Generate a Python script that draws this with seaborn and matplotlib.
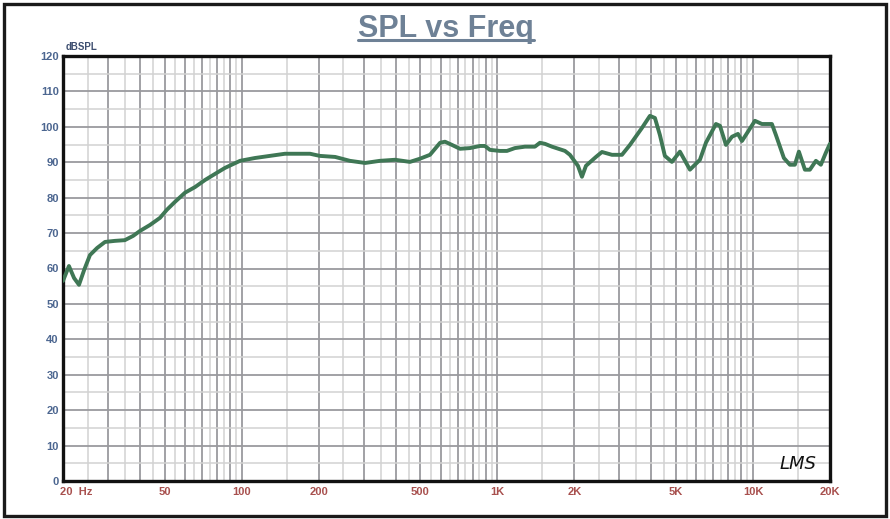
import numpy as np
import pandas as pd
import seaborn as sns
import matplotlib
matplotlib.use("Agg")
import matplotlib.pyplot as plt
from matplotlib.ticker import FixedLocator, NullFormatter
from matplotlib.patches import Rectangle
from matplotlib.lines import Line2D
import matplotlib.transforms as mtransforms

# ---- data ----
freq_hz = [20, 21.1, 22.1, 23.1, 24.2, 25.5, 27.2, 29.2, 31.9, 34.9, 37.6, 40.0,
           43.8, 47.9, 51.0, 54.8, 60.0, 65.7, 71.9, 78.6, 86.0, 98.5, 112.7,
           129, 147.7, 169, 185, 202, 232, 265, 304, 347, 398, 455, 498, 545,
           597, 624, 664, 714, 781, 855, 894, 935, 1023, 1090, 1171, 1282, 1402,
           1467, 1535, 1635, 1838, 1922, 2066, 2142, 2221, 2430, 2565, 2807,
           3071, 3300, 3678, 3951, 4133, 4322, 4520, 4815, 5176, 5665, 6198,
           6542, 7159, 7423, 7835, 8270, 8730, 9052, 10171, 10831, 11853, 12287,
           13203, 13937, 14577, 15112, 15955, 16686, 17614, 18422, 19270, 19980]
spl_db = [56.5, 60.7, 57.3, 55.4, 59.6, 63.8, 65.8, 67.5, 67.8, 68.0, 69.2, 70.6,
          72.3, 74.3, 76.6, 78.8, 81.4, 83.0, 85.0, 86.7, 88.4, 90.4, 91.2,
          91.8, 92.4, 92.4, 92.4, 91.8, 91.5, 90.4, 89.8, 90.4, 90.7, 90.1, 91.0,
          92.1, 95.5, 95.8, 94.9, 93.8, 94.0, 94.6, 94.6, 93.5, 93.2, 93.2, 94.0,
          94.4, 94.4, 95.5, 95.2, 94.4, 93.2, 92.1, 89.0, 85.9, 89.0, 91.5, 92.9,
          92.1, 92.1, 94.9, 99.7, 103.1, 102.5, 97.7, 91.8, 90.1, 93.0, 87.9, 90.7,
          95.5, 100.8, 100.3, 94.9, 97.2, 98.0, 96.0, 101.7, 100.8, 100.8, 97.7,
          91.2, 89.3, 89.3, 93.0, 87.9, 87.9, 90.4, 89.3, 92.7, 95.2]

x_tick_values = [20, 50, 100, 200, 500, 1000, 2000, 5000, 10000, 20000]
x_tick_labels = ["20  Hz", "50", "100", "200", "500", "1K", "2K", "5K", "10K", "20K"]
y_tick_values = [0, 10, 20, 30, 40, 50, 60, 70, 80, 90, 100, 110, 120]

df = pd.DataFrame({"freq": freq_hz, "spl": spl_db})

sns.set_theme(style="white")
plt.rcParams['font.family'] = ['Liberation Sans', 'DejaVu Sans']

fig = plt.figure(figsize=(8.9, 5.19), dpi=100)
ax = fig.add_axes([63/890, 38/519, 767/890, 425/519])

sns.lineplot(data=df, x="freq", y="spl", ax=ax, color="#3F7755", linewidth=2.8,
             zorder=5, legend=False)
for ln in ax.get_lines():
    ln.set_solid_joinstyle("round")
    ln.set_solid_capstyle("round")

ax.set_xscale("log")
ax.set_xlim(20, 20000)
ax.set_ylim(0, 120)

# grid locators
major_x = [m * 10**d for d in range(1, 5) for m in range(1, 10) if 20 <= m * 10**d <= 20000]
minor_x = [(m + 0.5) * 10**d for d in range(1, 5) for m in range(1, 10) if 20 <= (m + 0.5) * 10**d <= 20000]
ax.xaxis.set_major_locator(FixedLocator(major_x))
ax.xaxis.set_minor_locator(FixedLocator(minor_x))
ax.xaxis.set_minor_formatter(NullFormatter())
ax.set_xticklabels([x_tick_labels[x_tick_values.index(v)] if v in x_tick_values else ""
                    for v in major_x])
ax.yaxis.set_major_locator(FixedLocator(y_tick_values))
ax.yaxis.set_minor_locator(FixedLocator([v + 5 for v in y_tick_values[:-1]]))

ax.grid(True, which="major", color="#9a9a9e", linewidth=1.3, zorder=1)
ax.grid(True, which="minor", color="#d2d2d2", linewidth=1.1, zorder=0)
ax.set_axisbelow(True)

ax.tick_params(axis="both", which="both", length=0)
ax.tick_params(axis="x", pad=4, labelsize=8, labelcolor="#A8504E")
ax.tick_params(axis="y", pad=3, labelsize=8, labelcolor="#4C6690")
for lab in ax.get_xticklabels() + ax.get_yticklabels():
    lab.set_fontweight("bold")
first = ax.get_xticklabels()[0]
first.set_horizontalalignment("left")
first.set_transform(first.get_transform() + mtransforms.ScaledTranslation(-3/100, 0, fig.dpi_scale_trans))

ax.set_xlabel("")
ax.set_ylabel("")

for sp in ax.spines.values():
    sp.set_color("#111111")
    sp.set_linewidth(2.4)
    sp.set_visible(True)

# title with underline
fig.text(446/890, 1 - 37/519, "SPL vs Freq", ha="center", va="baseline",
         fontsize=22, fontweight="bold", color="#6E8196")
fig.add_artist(Line2D([358/890, 534/890], [1 - 39.5/519, 1 - 39.5/519],
                      color="#6E8196", linewidth=2.2, transform=fig.transFigure))

# unit label
fig.text(66/890, 1 - 47/519, "dBSPL", ha="left", va="center",
         fontsize=7, fontweight="bold", color="#3E4F70")

# LMS mark
ax.text(0.982, 0.018, "LMS", transform=ax.transAxes, ha="right", va="bottom",
        fontsize=13, style="italic", color="#111111", family="DejaVu Sans",
        fontweight="light")

# outer frame
fig.add_artist(Rectangle((4/890, 3/519), 882/890, 512/519, fill=False,
                         edgecolor="#1a1a1a", linewidth=2.4, transform=fig.transFigure))

fig.savefig("out.png", dpi=100, facecolor="white")
